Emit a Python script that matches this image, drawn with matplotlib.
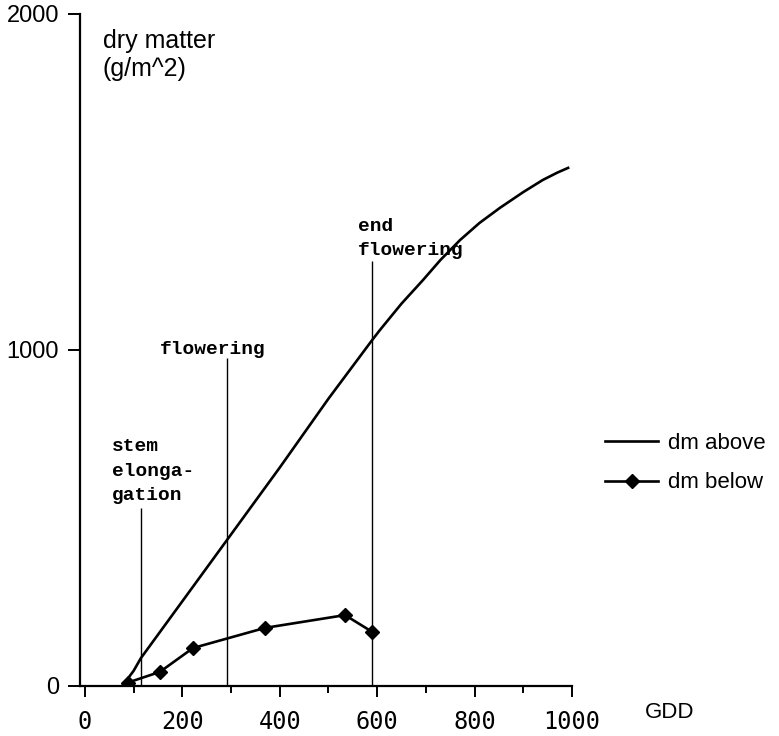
import matplotlib
matplotlib.use("Agg")
import matplotlib.pyplot as plt
from matplotlib.ticker import MultipleLocator

plt.rcParams['font.family'] = ['Liberation Sans', 'DejaVu Sans']

# dm above (smooth curve)
gdd_above = [78, 86, 100, 115, 200, 292, 400, 500, 590, 606, 650, 694, 730,
             770, 810, 852, 900, 940, 970, 992]
dm_above = [0, 18, 45, 83, 252, 435, 650, 855, 1030, 1060, 1138, 1208, 1268,
            1327, 1378, 1423, 1470, 1506, 1528, 1542]

# dm below (measured points)
gdd_below = [76, 88, 154, 222, 370, 534, 590]
dm_below = [0, 10, 42, 113, 173, 211, 161]
below_marked = [False, True, True, True, True, True, True]

# development stages
stage_gdd = [115, 292, 590]
stage_top = [530, 976, 1265]
stage_names = ["stem\nelonga-\ngation", "flowering", "end\nflowering"]
stage_text_x = [55, 154, 560]
stage_text_y = [737, 1027, 1392]

x_labels = [0, 200, 400, 600, 800, 1000]
y_labels = [0, 1000, 2000]

fig = plt.figure(figsize=(7.79, 7.36), dpi=100)
ax = fig.add_axes([80 / 779, 50 / 736, 492 / 779, 672 / 736])

ax.plot(gdd_above, dm_above, color='black', lw=1.9, label='dm above')
ax.plot(gdd_below, dm_below, color='black', lw=1.9, marker='D', ms=7.5,
        markevery=below_marked, label='dm below')

ax.vlines(stage_gdd, 0, stage_top, color='black', lw=1.0)
for x, y, name in zip(stage_text_x, stage_text_y, stage_names):
    ax.text(x, y, name, family='Liberation Mono', weight='bold', fontsize=14,
            ha='left', va='top', linespacing=1.55)

ax.text(37, 1955, "dry matter\n(g/m^2)", fontsize=18, ha='left', va='top',
        linespacing=1.2)
fig.text(645 / 779, 24 / 736, "GDD", fontsize=16, ha='left', va='center')

ax.set_xlim(-10, 1000)
ax.set_ylim(0, 2000)
ax.spines['top'].set_visible(False)
ax.spines['right'].set_visible(False)
ax.spines['left'].set_linewidth(1.6)
ax.spines['bottom'].set_linewidth(1.6)

ax.set_xticks(x_labels)
ax.set_xticklabels([str(v) for v in x_labels], family='DejaVu Sans Mono',
                   fontsize=17)
ax.xaxis.set_minor_locator(MultipleLocator(100))
ax.tick_params(axis='x', which='major', direction='out', length=8, width=1.4,
               pad=9)
ax.tick_params(axis='x', which='minor', direction='out', length=5, width=1.4)
ax.set_yticks(y_labels)
ax.set_yticklabels([str(v) for v in y_labels], fontsize=17)
ax.tick_params(axis='y', direction='out', length=9, width=1.4, pad=6)

ax.legend(loc='center left', bbox_to_anchor=(605 / 779, (736 - 463) / 736),
          bbox_transform=fig.transFigure, frameon=False, fontsize=16,
          handlelength=2.4, handletextpad=0.45, labelspacing=0.85,
          borderpad=0, borderaxespad=0)

fig.savefig("out.png", dpi=100)
